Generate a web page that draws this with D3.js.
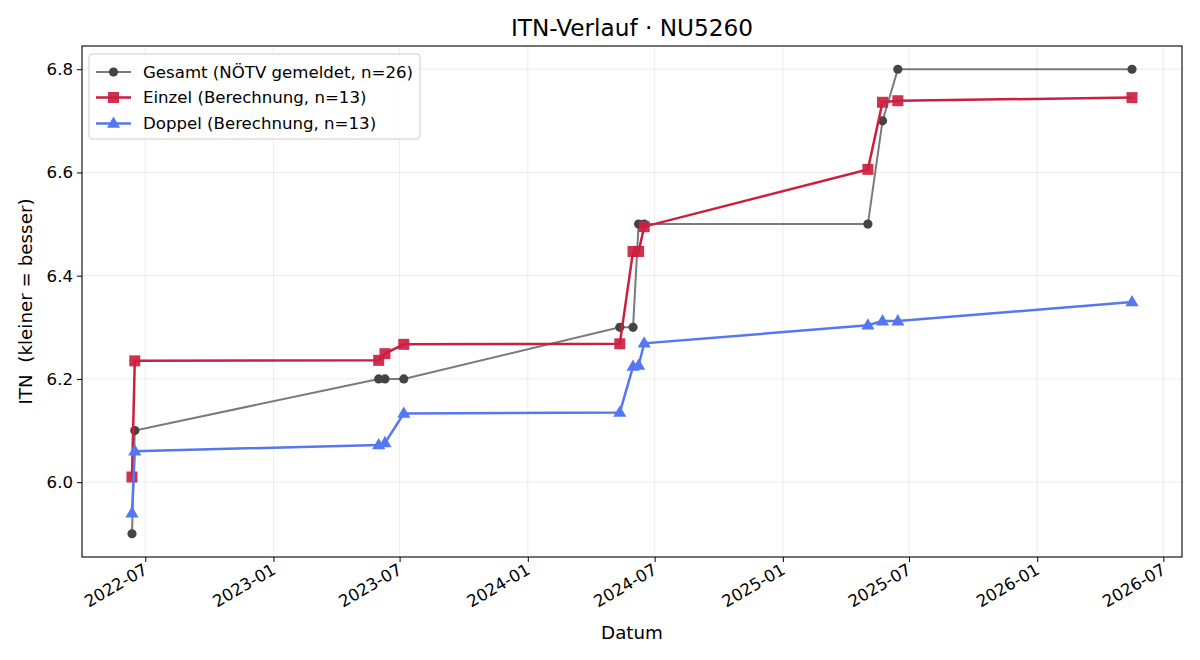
<!DOCTYPE html>
<html><head><meta charset="utf-8">
<script src="https://cdn.jsdelivr.net/npm/d3@7"></script>
<style>
body{margin:0;background:#fff;}
text{font-family:"DejaVu Sans",sans-serif;fill:#000;}
</style></head><body>
<svg id="c" width="1200" height="660"></svg>
<script>
const dates = ["2022-06-12","2022-06-16","2023-06-01","2023-06-10","2023-07-07","2024-05-12","2024-05-31","2024-06-08","2024-06-16","2025-05-03","2025-05-24","2025-06-15","2026-05-17"];
const gesamt = [5.90,6.10,6.20,6.20,6.20,6.30,6.30,6.50,6.50,6.50,6.70,6.80,6.80];
const einzel = [6.01,6.235,6.236,6.249,6.267,6.268,6.447,6.447,6.495,6.606,6.736,6.739,6.745];
const doppel = [5.94,6.06,6.072,6.076,6.133,6.135,6.224,6.226,6.269,6.304,6.312,6.312,6.349];
const xTickLabels = ["2022-07","2023-01","2023-07","2024-01","2024-07","2025-01","2025-07","2026-01","2026-07"];
const yTickLabels = ["6.0","6.2","6.4","6.6","6.8"];
const seriesNames = ["Gesamt (NÖTV gemeldet, n=26)","Einzel (Berechnung, n=13)","Doppel (Berechnung, n=13)"];

const parse = d3.utcParse("%Y-%m-%d");
const parseM = d3.utcParse("%Y-%m");
const X = dates.map(parse);
const svg = d3.select("#c");
const L=82, R=1182, T=46, B=557;

const xmin=d3.min(X), xmax=d3.max(X), xr=xmax-xmin;
const x = d3.scaleUtc().domain([new Date(+xmin-0.05*xr), new Date(+xmax+0.05*xr)]).range([L,R]);
const allY = gesamt.concat(einzel, doppel);
const ymin=d3.min(allY), ymax=d3.max(allY), yr=ymax-ymin;
const y = d3.scaleLinear().domain([ymin-0.05*yr, ymax+0.05*yr]).range([B,T]);

const xt = xTickLabels.map(parseM);
const yt = yTickLabels.map(Number);

// grid
const g = svg.append("g");
g.selectAll(".gx").data(xt).enter().append("line")
 .attr("x1",d=>x(d)).attr("x2",d=>x(d)).attr("y1",T).attr("y2",B)
 .attr("stroke","#b0b0b0").attr("stroke-opacity",0.3).attr("stroke-width",0.8);
g.selectAll(".gy").data(yt).enter().append("line")
 .attr("y1",d=>y(d)).attr("y2",d=>y(d)).attr("x1",L).attr("x2",R)
 .attr("stroke","#b0b0b0").attr("stroke-opacity",0.3).attr("stroke-width",0.8);

// axes
const xAxis = d3.axisBottom(x).tickValues(xt).tickFormat(d3.utcFormat("%Y-%m")).tickSizeOuter(0).tickSize(5).tickPadding(3);
const gx = svg.append("g").attr("transform",`translate(0,${B})`).call(xAxis);
gx.select(".domain").remove();
gx.selectAll("line").attr("stroke","#000").attr("stroke-width",1);
gx.selectAll("text").attr("font-size","16.6px").attr("font-family","DejaVu Sans")
  .attr("text-anchor","end").attr("dy",0).attr("y",0)
  .attr("transform","translate(3,16) rotate(-30)");

const yAxis = d3.axisLeft(y).tickValues(yt).tickFormat(d3.format(".1f")).tickSizeOuter(0).tickSize(5).tickPadding(4);
const gy = svg.append("g").attr("transform",`translate(${L},0)`).call(yAxis);
gy.select(".domain").remove();
gy.selectAll("line").attr("stroke","#000").attr("stroke-width",1);
gy.selectAll("text").attr("font-size","16.6px").attr("font-family","DejaVu Sans");

svg.append("rect").attr("x",L).attr("y",T).attr("width",R-L).attr("height",B-T)
 .attr("fill","none").attr("stroke","#000").attr("stroke-width",1.1);

// series
const line = d3.line().x(d=>x(d[0])).y(d=>y(d[1]));
const gd = X.map((d,i)=>[d,gesamt[i]]);
const ed = X.map((d,i)=>[d,einzel[i]]);
const dd = X.map((d,i)=>[d,doppel[i]]);

const cG="#7a7a7a", cGm="#444444", cE="#cc1f3f", cD="#5577f2";

svg.append("path").datum(gd).attr("d",line).attr("fill","none").attr("stroke",cG).attr("stroke-width",2);
svg.selectAll(".pg").data(gd).enter().append("circle")
 .attr("cx",d=>x(d[0])).attr("cy",d=>y(d[1])).attr("r",4.6).attr("fill",cGm);

svg.append("path").datum(ed).attr("d",line).attr("fill","none").attr("stroke",cE).attr("stroke-width",2.5);
svg.selectAll(".pe").data(ed).enter().append("rect")
 .attr("x",d=>x(d[0])-5.5).attr("y",d=>y(d[1])-5.5).attr("width",11).attr("height",11)
 .attr("fill",cE).attr("fill-opacity",0.92);

svg.append("path").datum(dd).attr("d",line).attr("fill","none").attr("stroke",cD).attr("stroke-width",2.5);
const tri = d3.symbol().type(d3.symbolTriangle).size(75);
svg.selectAll(".pd").data(dd).enter().append("path")
 .attr("d",tri).attr("transform",d=>`translate(${x(d[0])},${y(d[1])+0.5})`).attr("fill",cD);

// legend
const lg = svg.append("g");
lg.append("rect").attr("x",89).attr("y",54).attr("width",331).attr("height",85).attr("rx",3)
 .attr("fill","#fff").attr("fill-opacity",0.8).attr("stroke","#cccccc");
const rows=[72,97.5,123.5];
const cols=[cG,cE,cD];
rows.forEach((ry,i)=>{
  lg.append("line").attr("x1",96).attr("x2",131).attr("y1",ry).attr("y2",ry).attr("stroke",cols[i]).attr("stroke-width",i==0?2:2.5);
  if(i==0) lg.append("circle").attr("cx",113.5).attr("cy",ry).attr("r",4.6).attr("fill",cGm);
  if(i==1) lg.append("rect").attr("x",108).attr("y",ry-5.5).attr("width",11).attr("height",11).attr("fill",cE).attr("fill-opacity",0.92);
  if(i==2) lg.append("path").attr("d",tri).attr("transform",`translate(113.5,${ry+0.5})`).attr("fill",cD);
  lg.append("text").attr("x",143).attr("y",ry).attr("dy","0.35em").attr("font-size","16.6px").text(seriesNames[i]);
});

// labels
svg.append("text").attr("x",(L+R)/2).attr("y",36).attr("text-anchor","middle").attr("font-size","23.2px").text("ITN-Verlauf · NU5260");
svg.append("text").attr("x",(L+R)/2).attr("y",639).attr("text-anchor","middle").attr("font-size","18.3px").text("Datum");
svg.append("text").attr("transform",`translate(32,${(T+B)/2}) rotate(-90)`).attr("text-anchor","middle").attr("font-size","18.3px").attr("xml:space","preserve").style("white-space","pre").text("ITN  (kleiner = besser)");
</script>
</body></html>
